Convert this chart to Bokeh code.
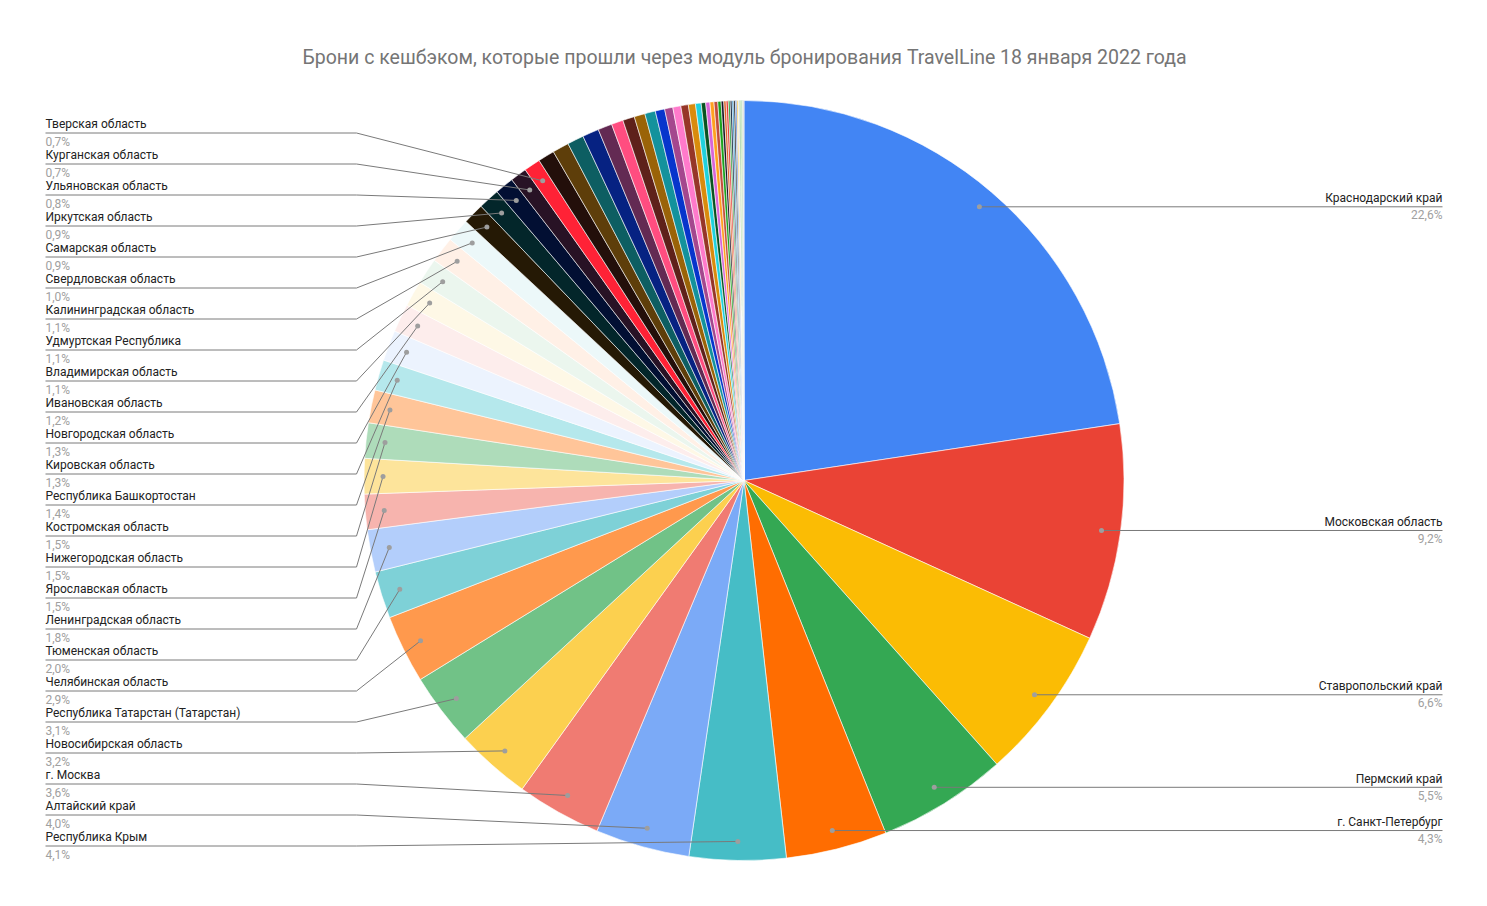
import math
from bokeh.plotting import figure
from bokeh.models import ColumnDataSource, Range1d
from bokeh.core.properties import value
from bokeh.embed import file_html
from bokeh.resources import INLINE

W, H = 1487, 906

title_text = "Брони с кешбэком, которые прошли через модуль бронирования TravelLine 18 января 2022 года"

regions = [
    "Краснодарский край", "Московская область", "Ставропольский край", "Пермский край",
    "г. Санкт-Петербург", "Республика Крым", "Алтайский край", "г. Москва",
    "Новосибирская область", "Республика Татарстан (Татарстан)", "Челябинская область",
    "Тюменская область", "Ленинградская область", "Ярославская область",
    "Нижегородская область", "Костромская область", "Республика Башкортостан",
    "Кировская область", "Новгородская область", "Ивановская область",
    "Владимирская область", "Удмуртская Республика", "Калининградская область",
    "Свердловская область", "Самарская область", "Иркутская область",
    "Ульяновская область", "Курганская область", "Тверская область",
]
shares = [
    22.6, 9.2, 6.6, 5.5, 4.3, 4.1, 4.0, 3.6, 3.2, 3.1, 2.9, 2.0, 1.8, 1.5, 1.5, 1.5,
    1.4, 1.3, 1.3, 1.2, 1.1, 1.1, 1.1, 1.0, 0.9, 0.9, 0.8, 0.7, 0.7,
]
# unlabeled small regions
small_shares = [
    0.7, 0.7, 0.7, 0.7, 0.6, 0.5, 0.5, 0.46, 0.45, 0.4, 0.35, 0.34, 0.32, 0.3, 0.24,
    0.19, 0.18, 0.17, 0.16, 0.14, 0.11,
    0.1, 0.09, 0.08, 0.08, 0.07, 0.07, 0.06, 0.06, 0.05, 0.05, 0.04, 0.04, 0.03, 0.03,
]

palette = [
    "#4285F4", "#EA4335", "#FBBC04", "#34A853", "#FF6D01", "#46BDC6",
    "#7BAAF7", "#F07B72", "#FCD04F", "#71C287", "#FF994D", "#7ED1D7",
    "#B3CEFB", "#F7B4AE", "#FDE49B", "#AEDCBA", "#FFC599", "#B5E8EC",
    "#ECF3FE", "#FDEDEC", "#FEF8E6", "#EBF6EE", "#FFF0E6", "#ECF8F9",
    "#251905", "#03262A", "#020F33", "#281225", "#FF2236",
    "#230F0A", "#5E3E0A", "#0D5E62", "#062282", "#632A53", "#FF4D80",
    "#5E211A", "#9A6308", "#13929C", "#0735CC", "#A4478E", "#FF7ACB",
    "#963628", "#D98B0D", "#20D1DC", "#085320", "#D766D8", "#FFA11F",
    "#C34D3C", "#1BA31D", "#1B1426",
    "#E0662B", "#E53935", "#2E9E3A", "#0B1F3A", "#1E88C9", "#111111",
    "#3F6FD8", "#F9C846", "#D8D8D8", "#43A047", "#7CD84A", "#2F8F3A",
    "#A5D69A", "#A0A0A0", "#6FA8F0",
]

all_vals = shares + small_shares
total = sum(all_vals)
CX, CY_S, R = 743.5, 480.0, 380.0
CY = H - CY_S

starts, ends, cols = [], [], []
cum = 0.0
mids = []
for i, v in enumerate(all_vals):
    a0 = cum / total * 2 * math.pi
    cum += v
    a1 = cum / total * 2 * math.pi
    # clockwise from 12 o'clock
    starts.append(math.pi / 2 - a1)
    ends.append(math.pi / 2 - a0)
    cols.append(palette[i % len(palette)])
    mids.append((a0 + a1) / 2)

p = figure(width=W, height=H, output_backend="svg", toolbar_location=None,
           x_range=Range1d(0, W), y_range=Range1d(0, H),
           x_axis_location=None, y_axis_location=None, min_border=0)
p.outline_line_color = None
p.grid.visible = False
p.background_fill_color = "white"
p.border_fill_color = "white"

p.wedge(x=CX, y=CY, radius=R, start_angle="s", end_angle="e", fill_color="c",
        line_color="white", line_width=0.6,
        source=ColumnDataSource(dict(s=starts, e=ends, c=cols)))

# labels
RD = 361.0
n_right = 5
lx_left, lx_knee, lx_right = 45, 356, 1442
xs, ys = [], []
dx, dy = [], []
nm_x, nm_y, nm_t, nm_align = [], [], [], []
pc_x, pc_y, pc_t = [], [], []
n_lab = len(shares)
for i in range(n_lab):
    m = mids[i]
    px = CX + RD * math.sin(m)
    py_s = CY_S - RD * math.cos(m)
    dx.append(px)
    dy.append(H - py_s)
    pct = ("%.1f" % shares[i]).replace(".", ",") + "%"
    if i < n_right:
        ly = py_s
        xs.append([px, lx_right]); ys.append([H - ly, H - ly])
        nm_x.append(lx_right); nm_align.append("right")
        pc_x.append(lx_right)
        nm_y.append(H - (ly - 8.8)); pc_y.append(H - (ly + 8.3))
    else:
        row = (n_lab - 1) - i
        ly = 132.5 + 31.0 * row
        xs.append([lx_left, lx_knee, px]); ys.append([H - ly, H - ly, H - py_s])
        nm_x.append(lx_left); nm_align.append("left")
        pc_x.append(lx_left)
        nm_y.append(H - (ly - 8.6)); pc_y.append(H - (ly + 9.0))
    nm_t.append(regions[i])
    pc_t.append(pct)

p.multi_line(xs=xs, ys=ys, line_color="#7a7a7a", line_width=1)
p.scatter(x=dx, y=dy, size=5, marker="circle", fill_color="#9e9e9e", line_color=None)

p.text(x="x", y="y", text="t", text_align="a", text_baseline="middle",
       text_font=value("Roboto"), text_font_size="12px", text_color="#222222",
       source=ColumnDataSource(dict(x=nm_x, y=nm_y, t=nm_t, a=nm_align)))
p.text(x="x", y="y", text="t", text_align="a", text_baseline="middle",
       text_font=value("Roboto"), text_font_size="12px", text_color="#a0a0a0",
       source=ColumnDataSource(dict(x=pc_x, y=pc_y, t=pc_t, a=nm_align)))

p.text(x=[744], y=[H - 57], text=[title_text], text_align="center", text_baseline="middle",
       text_font=value("Roboto"), text_font_size="19.5px", text_color="#757575")

open("out.html", "w").write(file_html(p, INLINE))
